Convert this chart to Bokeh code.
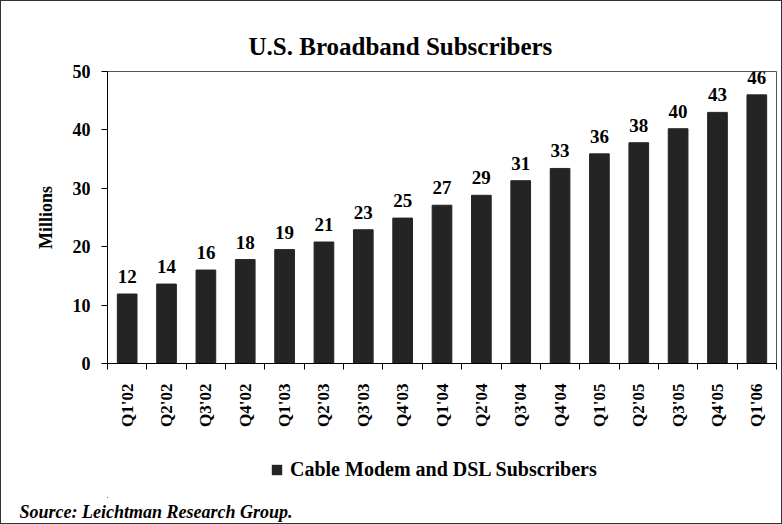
from bokeh.plotting import figure
from bokeh.models import (ColumnDataSource, FixedTicker, LabelSet, Legend, LegendItem, Range1d, Title)
from bokeh.layouts import column
from bokeh.embed import file_html
from bokeh.resources import INLINE
import math

quarters = ["Q1'02", "Q2'02", "Q3'02", "Q4'02", "Q1'03", "Q2'03", "Q3'03", "Q4'03",
            "Q1'04", "Q2'04", "Q3'04", "Q4'04", "Q1'05", "Q2'05", "Q3'05", "Q4'05", "Q1'06"]
subscribers = [11.9, 13.6, 16.0, 17.8, 19.5, 20.8, 22.9, 24.9,
               27.1, 28.8, 31.3, 33.4, 35.9, 37.8, 40.2, 43.0, 46.0]
value_labels = ["12", "14", "16", "18", "19", "21", "23", "25",
                "27", "29", "31", "33", "36", "38", "40", "43", "46"]
y_ticks = [0, 10, 20, 30, 40, 50]

title_text = "U.S. Broadband Subscribers"
y_title = "Millions"
series_name = "Cable Modem and DSL Subscribers"
source_note = "Source: Leichtman Research Group."

FONT = "Liberation Serif"
BAR = "#242424"
W = 780
H1, H2 = 445, 77

n = len(quarters)
centers = [i + 0.5 for i in range(n)]
src = ColumnDataSource(dict(x=centers, top=subscribers, lab=value_labels))

p = figure(width=W, height=H1, output_backend="svg", toolbar_location=None,
           x_range=Range1d(0, n), y_range=Range1d(0, 50),
           min_border_left=106, min_border_right=5, min_border_top=70, min_border_bottom=83)

p.vbar(x="x", top="top", width=0.5, source=src, fill_color=BAR, line_color=BAR)

p.add_layout(LabelSet(x="x", y="top", text="lab", source=src, text_align="center",
                      text_baseline="bottom", y_offset=11, text_font=FONT,
                      text_font_size="19px", text_font_style="bold", text_color="black"))

p.grid.visible = False
p.outline_line_color = "#555555"
p.outline_line_width = 1

# title
p.title.text = title_text
p.title.align = "left"
p.title.offset = 141
p.title.standoff = 24
p.title.text_font = FONT
p.title.text_font_size = "25px"
p.title.text_font_style = "bold"
p.title.text_color = "black"

# y axis
ya = p.yaxis[0]
ya.ticker = FixedTicker(ticks=y_ticks)
ya.minor_tick_line_color = None
ya.major_tick_out = 6
ya.major_tick_in = 0
ya.axis_line_color = "black"
ya.major_label_text_font = FONT
ya.major_label_text_font_size = "18px"
ya.major_label_text_font_style = "bold"
ya.major_label_text_color = "black"
ya.major_label_standoff = 11
ya.axis_label = y_title
ya.axis_label_text_font = FONT
ya.axis_label_text_font_size = "18px"
ya.axis_label_text_font_style = "bold"
ya.axis_label_text_color = "black"
ya.axis_label_standoff = 14

# x axis
xa = p.xaxis[0]
xa.ticker = FixedTicker(ticks=centers, minor_ticks=list(range(n + 1)))
xa.major_label_overrides = {c: q for c, q in zip(centers, quarters)}
xa.major_tick_out = 0
xa.major_tick_in = 0
xa.minor_tick_out = 6
xa.minor_tick_in = 0
xa.minor_tick_line_color = "black"
xa.axis_line_color = "black"
xa.major_label_orientation = math.pi / 2
xa.major_label_text_font = FONT
xa.major_label_text_font_size = "17px"
xa.major_label_text_font_style = "bold"
xa.major_label_text_color = "black"
xa.major_label_standoff = 14

# bottom strip: legend and source note (frame aligned with the chart above)
p2 = figure(width=W, height=H2, output_backend="svg", toolbar_location=None,
            x_range=Range1d(1000, 1000 + n), y_range=Range1d(1000, 1100),
            x_axis_location=None, y_axis_location=None,
            min_border_left=0, min_border_right=0, min_border_top=0, min_border_bottom=22)
p2.grid.visible = False
p2.outline_line_color = None
# same bars, lying outside this strip's ranges: only their legend swatch shows
swatch = p2.vbar(x="x", top="top", width=0.5, source=src, fill_color=BAR, line_color=None)

p2.add_layout(Legend(items=[LegendItem(label=series_name, renderers=[swatch])],
                     location=(163, 16), orientation="horizontal",
                     label_text_font="'Liberation Serif'", label_text_font_size="20px",
                     label_text_font_style="bold", label_text_color="black",
                     glyph_width=13, glyph_height=13, label_standoff=7,
                     border_line_color=None, background_fill_alpha=0, padding=0, margin=0))

note = Title(text=source_note, align="left", offset=-88, standoff=4,
             text_font=FONT, text_font_size="18px", text_font_style="bold italic",
             text_color="black")
p2.add_layout(note, "below")

layout = column(p, p2, spacing=0, styles={"border": "1px solid #333"})

open("out.html", "w").write(file_html(layout, INLINE))
